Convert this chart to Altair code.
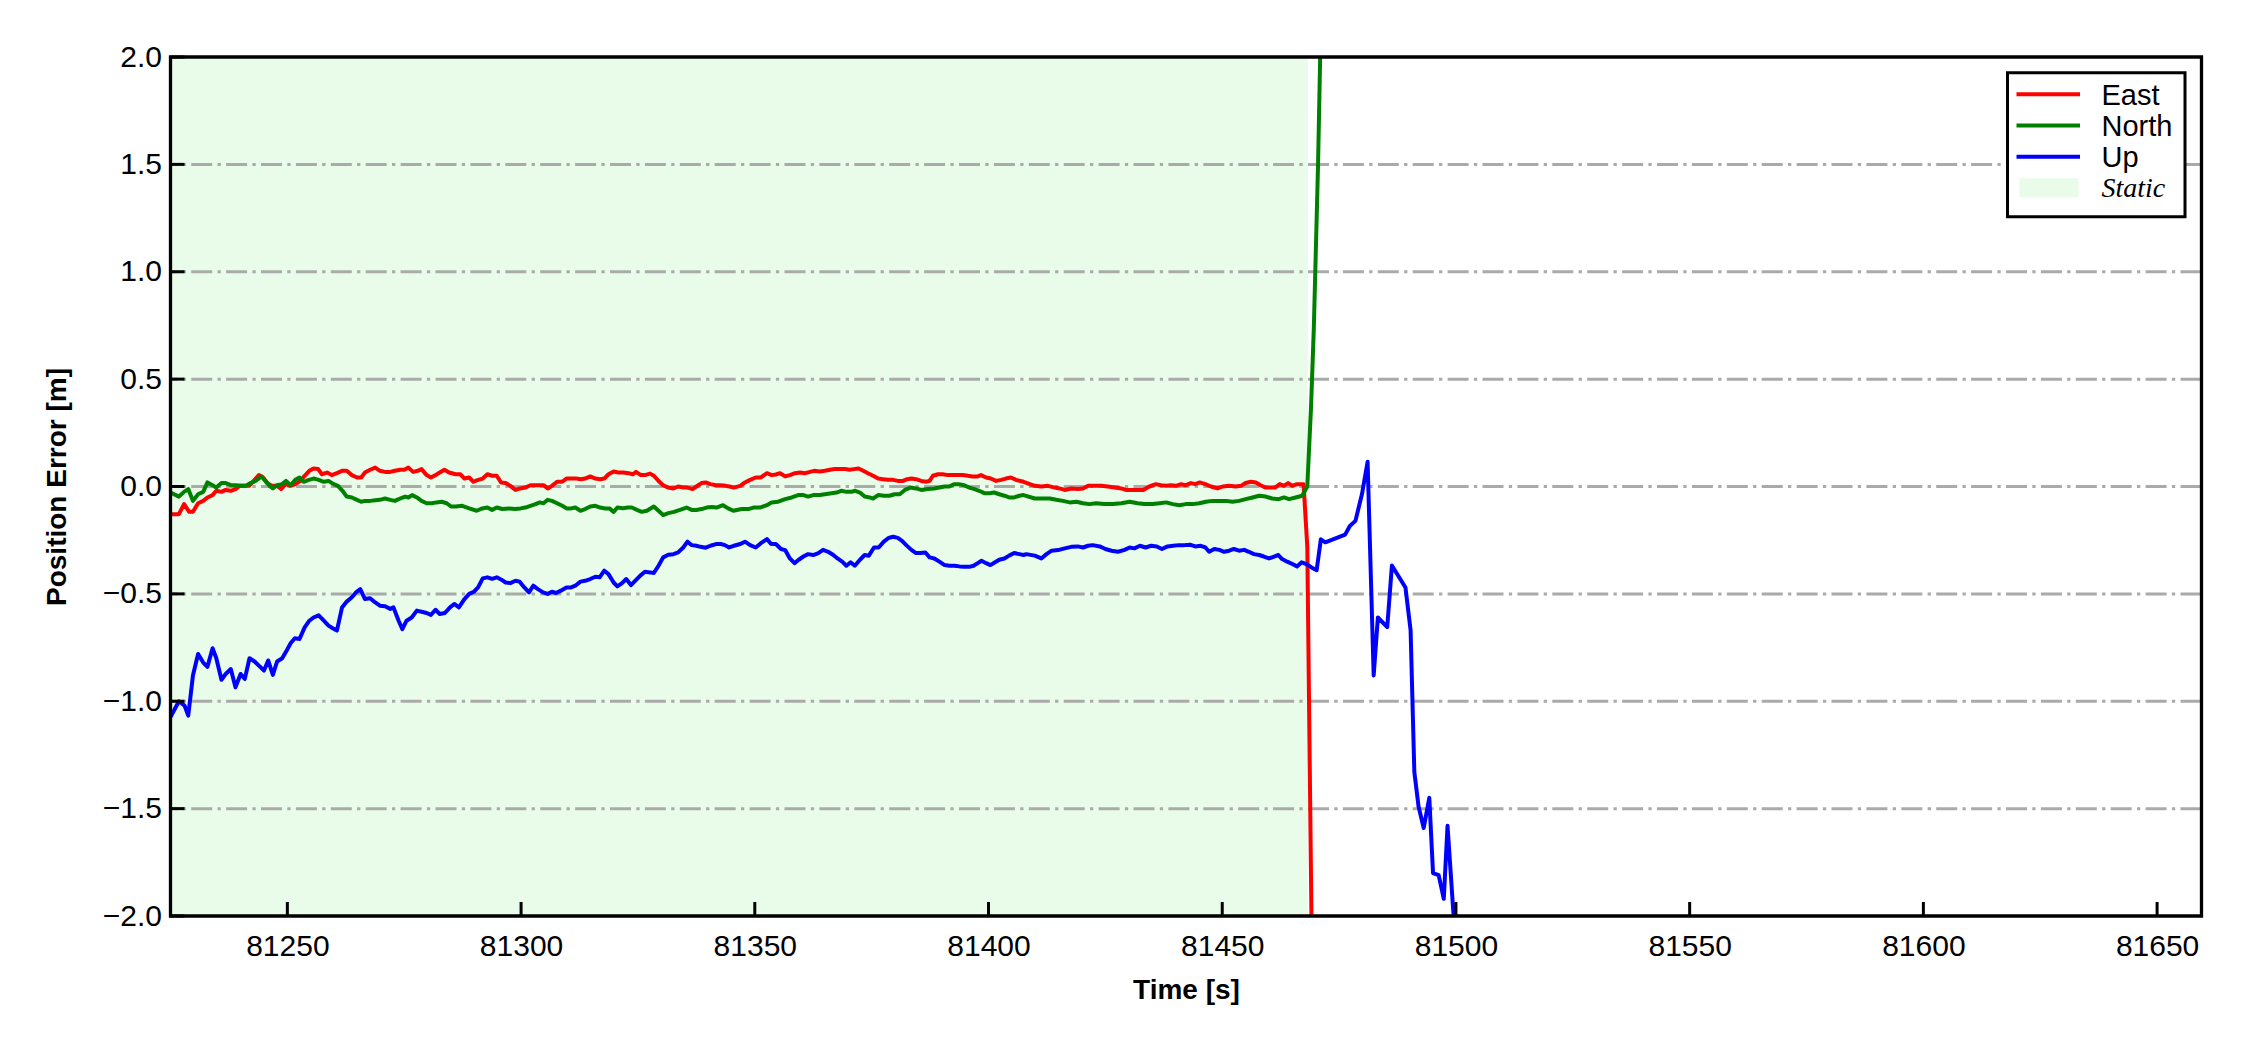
import altair as alt
import pandas as pd

alt.data_transformers.disable_max_rows()

# ---------------- data ----------------
EAST = [(81225.0,-0.129),(81226.8,-0.129),(81227.9,-0.082),(81229.0,-0.118),(81229.8,-0.118),(81230.9,-0.078),(81232.0,-0.067),(81232.9,-0.051),(81234.0,-0.040),(81234.8,-0.020),(81235.9,-0.025),(81236.8,-0.016),(81237.9,-0.020),(81238.9,-0.012),(81239.8,0.003),(81240.9,0.003),(81241.8,0.003),(81242.8,0.026),(81243.9,0.053),(81244.8,0.042),(81245.7,0.016),(81246.7,0.003),(81247.8,0.003),(81248.7,-0.012),(81249.6,0.011),(81250.7,0.003),(81251.7,0.011),(81252.8,0.026),(81253.7,0.050),(81254.7,0.073),(81255.6,0.084),(81256.6,0.081),(81257.4,0.057),(81258.5,0.065),(81259.5,0.053),(81260.6,0.062),(81261.7,0.073),(81262.7,0.073),(81263.8,0.053),(81264.9,0.042),(81265.8,0.042),(81266.6,0.065),(81267.7,0.078),(81268.8,0.088),(81269.8,0.073),(81270.9,0.068),(81272.0,0.068),(81273.0,0.073),(81274.1,0.078),(81275.0,0.078),(81275.9,0.088),(81276.9,0.068),(81277.9,0.073),(81278.7,0.081),(81279.8,0.053),(81280.7,0.042),(81281.7,0.053),(81282.6,0.065),(81283.6,0.078),(81284.6,0.065),(81286.0,0.057),(81287.0,0.057),(81287.9,0.037),(81288.9,0.042),(81289.8,0.022),(81290.8,0.031),(81291.8,0.037),(81292.8,0.057),(81293.8,0.050),(81294.8,0.050),(81295.7,0.019),(81296.7,0.016),(81297.7,0.003),(81298.8,-0.016),(81299.8,-0.009),(81300.9,-0.005),(81302.0,0.006),(81303.0,0.006),(81304.0,0.006),(81304.8,0.006),(81305.7,-0.009),(81306.6,0.003),(81307.7,0.022),(81308.8,0.022),(81309.7,0.037),(81310.7,0.037),(81311.8,0.037),(81312.8,0.034),(81313.7,0.037),(81314.8,0.047),(81315.9,0.037),(81316.9,0.034),(81317.8,0.037),(81318.7,0.057),(81319.8,0.070),(81320.8,0.065),(81321.9,0.065),(81323.0,0.062),(81323.9,0.057),(81324.6,0.068),(81325.6,0.053),(81326.5,0.053),(81327.6,0.060),(81328.4,0.050),(81329.4,0.026),(81330.4,0.006),(81331.5,-0.005),(81332.6,-0.009),(81333.6,0.000),(81334.7,-0.005),(81335.6,-0.005),(81336.7,-0.012),(81337.5,0.000),(81338.6,0.016),(81339.5,0.019),(81340.5,0.011),(81341.7,0.006),(81342.7,0.006),(81343.8,0.003),(81344.6,0.000),(81345.5,-0.005),(81346.9,0.003),(81347.9,0.019),(81349.0,0.031),(81350.2,0.042),(81351.3,0.042),(81352.6,0.062),(81353.6,0.053),(81354.5,0.056),(81355.4,0.062),(81356.5,0.047),(81357.5,0.053),(81358.6,0.062),(81359.7,0.065),(81360.7,0.062),(81361.8,0.068),(81362.7,0.073),(81363.9,0.070),(81365.0,0.073),(81366.1,0.078),(81367.1,0.081),(81368.2,0.081),(81369.3,0.081),(81370.3,0.078),(81371.2,0.081),(81372.2,0.084),(81373.2,0.073),(81374.2,0.062),(81375.3,0.050),(81376.4,0.037),(81377.4,0.034),(81378.5,0.031),(81379.6,0.031),(81380.6,0.026),(81381.7,0.026),(81382.6,0.034),(81383.5,0.037),(81384.5,0.034),(81385.6,0.026),(81386.7,0.022),(81387.4,0.026),(81388.1,0.050),(81389.2,0.057),(81390.2,0.057),(81391.3,0.053),(81392.4,0.053),(81393.4,0.053),(81394.5,0.054),(81395.6,0.050),(81396.6,0.047),(81397.7,0.047),(81398.4,0.053),(81399.5,0.042),(81400.5,0.037),(81401.6,0.026),(81402.7,0.031),(81403.7,0.037),(81404.8,0.042),(81405.9,0.031),(81407.5,0.022),(81409.9,0.003),(81411.3,0.000),(81412.7,0.003),(81414.2,-0.005),(81415.2,-0.009),(81416.3,-0.016),(81417.7,-0.009),(81419.1,-0.012),(81420.2,-0.009),(81421.3,0.003),(81422.7,0.003),(81424.1,0.003),(81425.5,0.000),(81427.0,-0.005),(81428.4,-0.009),(81429.4,-0.016),(81430.9,-0.016),(81431.9,-0.016),(81433.1,-0.016),(81434.4,0.000),(81435.8,0.011),(81436.9,0.006),(81438.0,0.003),(81439.0,0.006),(81440.1,0.003),(81441.2,0.011),(81442.2,0.006),(81443.3,0.016),(81444.2,0.011),(81445.2,0.019),(81446.4,0.011),(81447.6,0.000),(81449.0,-0.009),(81450.1,0.000),(81451.5,0.003),(81452.9,0.000),(81454.0,0.003),(81455.0,0.016),(81456.1,0.022),(81457.2,0.019),(81458.2,0.006),(81459.3,-0.005),(81460.4,-0.005),(81461.3,-0.005),(81462.3,0.011),(81463.2,0.003),(81464.1,0.016),(81465.0,0.003),(81466.0,0.011),(81467.4,0.011),(81468.2,-0.280),(81469.6,-3.000)]

NORTH = [(81225.0,-0.028),(81226.8,-0.047),(81227.9,-0.025),(81228.8,-0.012),(81229.8,-0.067),(81230.9,-0.036),(81232.0,-0.025),(81232.9,0.019),(81234.0,0.006),(81234.8,-0.005),(81235.9,0.016),(81236.8,0.016),(81237.9,0.006),(81238.9,0.006),(81240.0,0.003),(81241.1,0.003),(81242.1,0.016),(81243.2,0.026),(81244.5,0.047),(81245.3,0.026),(81246.2,0.003),(81246.9,-0.009),(81247.8,0.006),(81248.9,0.011),(81249.7,0.026),(81250.7,0.006),(81251.7,0.031),(81252.6,0.042),(81253.5,0.022),(81254.6,0.031),(81255.6,0.037),(81256.7,0.031),(81257.8,0.022),(81258.8,0.026),(81259.9,0.011),(81260.8,0.003),(81261.8,-0.020),(81262.7,-0.047),(81263.8,-0.051),(81264.9,-0.062),(81265.8,-0.071),(81266.6,-0.067),(81267.7,-0.067),(81268.8,-0.064),(81269.8,-0.062),(81270.9,-0.056),(81272.0,-0.062),(81273.0,-0.067),(81274.1,-0.056),(81275.2,-0.047),(81275.9,-0.051),(81276.7,-0.040),(81277.7,-0.051),(81278.7,-0.067),(81279.8,-0.078),(81280.9,-0.078),(81281.9,-0.074),(81283.0,-0.071),(81284.1,-0.078),(81285.0,-0.093),(81286.0,-0.093),(81287.4,-0.090),(81288.9,-0.102),(81290.5,-0.113),(81291.7,-0.102),(81292.8,-0.098),(81293.8,-0.109),(81294.8,-0.098),(81296.0,-0.105),(81297.4,-0.102),(81298.8,-0.105),(81299.9,-0.102),(81300.9,-0.098),(81302.0,-0.090),(81303.1,-0.082),(81304.0,-0.074),(81304.8,-0.078),(81305.7,-0.062),(81306.6,-0.067),(81307.7,-0.078),(81308.8,-0.090),(81309.8,-0.102),(81310.7,-0.102),(81311.6,-0.098),(81312.7,-0.113),(81313.7,-0.105),(81314.8,-0.093),(81315.9,-0.090),(81316.9,-0.098),(81318.0,-0.102),(81318.9,-0.102),(81319.8,-0.118),(81320.6,-0.098),(81321.8,-0.101),(81322.8,-0.098),(81323.7,-0.098),(81324.8,-0.109),(81325.8,-0.118),(81326.9,-0.113),(81328.4,-0.093),(81329.4,-0.113),(81330.4,-0.133),(81331.5,-0.124),(81332.7,-0.118),(81334.0,-0.109),(81335.4,-0.098),(81336.5,-0.109),(81337.5,-0.109),(81338.6,-0.105),(81339.7,-0.098),(81340.8,-0.095),(81341.8,-0.098),(81343.2,-0.087),(81344.3,-0.102),(81345.4,-0.113),(81347.2,-0.105),(81348.6,-0.105),(81349.7,-0.098),(81351.1,-0.098),(81352.6,-0.087),(81353.6,-0.074),(81355.0,-0.071),(81356.5,-0.059),(81357.9,-0.051),(81359.3,-0.040),(81360.4,-0.040),(81361.4,-0.047),(81362.5,-0.040),(81363.9,-0.040),(81365.0,-0.036),(81366.4,-0.031),(81367.5,-0.028),(81368.5,-0.020),(81369.6,-0.025),(81370.7,-0.025),(81371.5,-0.020),(81372.5,-0.028),(81373.5,-0.047),(81374.6,-0.051),(81375.3,-0.056),(81376.4,-0.040),(81377.6,-0.043),(81378.8,-0.043),(81379.9,-0.036),(81381.0,-0.036),(81382.1,-0.016),(81383.3,-0.005),(81384.5,-0.009),(81385.6,-0.016),(81387.0,-0.012),(81388.4,-0.009),(81389.5,-0.005),(81390.6,0.000),(81391.6,0.000),(81392.7,0.011),(81393.6,0.011),(81394.8,0.006),(81395.9,-0.005),(81397.0,-0.012),(81398.0,-0.020),(81399.1,-0.031),(81400.2,-0.031),(81401.2,-0.028),(81402.3,-0.036),(81403.4,-0.043),(81404.4,-0.051),(81405.5,-0.051),(81406.6,-0.043),(81407.5,-0.040),(81409.9,-0.056),(81411.7,-0.056),(81413.1,-0.056),(81414.5,-0.062),(81415.9,-0.067),(81417.4,-0.074),(81418.8,-0.071),(81420.2,-0.078),(81421.6,-0.082),(81423.0,-0.078),(81424.8,-0.082),(81426.6,-0.082),(81428.4,-0.078),(81430.2,-0.071),(81431.9,-0.078),(81433.4,-0.082),(81435.1,-0.082),(81436.6,-0.078),(81438.0,-0.074),(81439.4,-0.082),(81440.8,-0.087),(81442.2,-0.082),(81443.7,-0.082),(81445.1,-0.078),(81446.5,-0.071),(81447.9,-0.067),(81449.3,-0.067),(81450.8,-0.067),(81452.2,-0.071),(81453.6,-0.067),(81455.0,-0.059),(81456.5,-0.051),(81457.9,-0.043),(81459.3,-0.047),(81460.7,-0.056),(81462.1,-0.059),(81463.2,-0.051),(81464.3,-0.059),(81465.7,-0.051),(81467.1,-0.043),(81468.2,0.000),(81469.0,0.370),(81469.6,0.740),(81470.5,1.500),(81471.0,2.050),(81471.4,2.700)]

UP = [(81225.0,-1.074),(81226.8,-1.000),(81228.0,-1.020),(81228.8,-1.067),(81229.8,-0.880),(81230.9,-0.780),(81232.0,-0.820),(81232.9,-0.840),(81234.0,-0.753),(81234.8,-0.800),(81235.9,-0.900),(81236.8,-0.873),(81237.9,-0.850),(81238.9,-0.935),(81240.0,-0.873),(81240.9,-0.896),(81241.9,-0.800),(81243.0,-0.815),(81243.9,-0.834),(81245.0,-0.857),(81245.9,-0.810),(81246.9,-0.877),(81247.8,-0.815),(81248.9,-0.800),(81249.7,-0.770),(81250.7,-0.730),(81251.6,-0.707),(81252.6,-0.710),(81253.7,-0.656),(81254.7,-0.625),(81255.6,-0.610),(81256.7,-0.600),(81257.8,-0.625),(81258.8,-0.648),(81259.7,-0.660),(81260.6,-0.671),(81261.7,-0.563),(81262.7,-0.536),(81263.8,-0.516),(81264.7,-0.493),(81265.6,-0.478),(81266.6,-0.524),(81267.7,-0.520),(81268.8,-0.540),(81269.8,-0.555),(81270.9,-0.558),(81272.0,-0.570),(81272.7,-0.563),(81273.8,-0.625),(81274.6,-0.664),(81275.5,-0.625),(81276.6,-0.610),(81277.7,-0.578),(81278.7,-0.583),(81279.8,-0.589),(81280.7,-0.598),(81281.7,-0.574),(81282.6,-0.594),(81283.7,-0.589),(81284.8,-0.563),(81285.7,-0.547),(81286.7,-0.563),(81287.8,-0.527),(81288.9,-0.500),(81289.9,-0.490),(81290.8,-0.470),(81291.8,-0.428),(81292.8,-0.423),(81293.8,-0.430),(81294.8,-0.423),(81295.8,-0.434),(81296.7,-0.447),(81297.7,-0.450),(81298.8,-0.439),(81299.7,-0.443),(81300.7,-0.470),(81301.7,-0.493),(81302.6,-0.462),(81303.6,-0.478),(81304.7,-0.493),(81305.7,-0.500),(81306.6,-0.490),(81307.5,-0.496),(81308.5,-0.485),(81309.7,-0.470),(81310.7,-0.470),(81311.6,-0.462),(81312.7,-0.443),(81313.7,-0.439),(81314.8,-0.431),(81315.9,-0.420),(81316.8,-0.423),(81317.8,-0.392),(81318.7,-0.408),(81319.8,-0.447),(81320.6,-0.465),(81321.6,-0.450),(81322.5,-0.431),(81323.5,-0.459),(81324.4,-0.439),(81325.5,-0.415),(81326.5,-0.397),(81327.6,-0.400),(81328.4,-0.403),(81329.4,-0.369),(81330.4,-0.330),(81331.5,-0.318),(81332.6,-0.315),(81333.6,-0.307),(81334.7,-0.284),(81335.6,-0.257),(81336.5,-0.273),(81337.5,-0.276),(81338.4,-0.281),(81339.5,-0.285),(81340.5,-0.276),(81341.7,-0.268),(81342.7,-0.268),(81343.6,-0.273),(81344.5,-0.284),(81345.5,-0.276),(81346.9,-0.268),(81347.9,-0.257),(81349.0,-0.273),(81350.2,-0.284),(81351.3,-0.264),(81352.6,-0.245),(81353.5,-0.268),(81354.5,-0.268),(81355.6,-0.291),(81356.5,-0.296),(81357.5,-0.335),(81358.5,-0.357),(81359.4,-0.341),(81360.4,-0.326),(81361.4,-0.315),(81362.5,-0.319),(81363.6,-0.310),(81364.6,-0.295),(81365.7,-0.304),(81366.8,-0.319),(81367.7,-0.335),(81368.7,-0.350),(81369.6,-0.369),(81370.5,-0.353),(81371.4,-0.369),(81372.5,-0.341),(81373.5,-0.319),(81374.4,-0.322),(81375.5,-0.284),(81376.5,-0.284),(81377.6,-0.257),(81378.6,-0.240),(81379.6,-0.234),(81380.6,-0.239),(81381.5,-0.253),(81382.4,-0.273),(81383.5,-0.295),(81384.5,-0.310),(81385.5,-0.310),(81386.5,-0.307),(81387.4,-0.330),(81388.4,-0.335),(81389.5,-0.350),(81390.6,-0.366),(81391.6,-0.369),(81392.7,-0.369),(81393.8,-0.372),(81394.8,-0.374),(81395.9,-0.374),(81396.8,-0.369),(81397.7,-0.357),(81398.5,-0.346),(81399.5,-0.357),(81400.4,-0.366),(81401.4,-0.353),(81402.3,-0.341),(81403.4,-0.335),(81404.4,-0.322),(81405.5,-0.310),(81406.6,-0.315),(81407.5,-0.319),(81408.1,-0.315),(81409.9,-0.322),(81411.3,-0.335),(81412.4,-0.315),(81413.5,-0.299),(81414.9,-0.296),(81416.3,-0.288),(81417.7,-0.281),(81419.1,-0.279),(81420.2,-0.284),(81421.3,-0.276),(81422.3,-0.273),(81423.8,-0.279),(81425.0,-0.291),(81426.3,-0.299),(81427.7,-0.304),(81429.1,-0.295),(81430.2,-0.284),(81431.2,-0.288),(81432.4,-0.276),(81433.6,-0.284),(81434.8,-0.276),(81436.0,-0.279),(81437.1,-0.291),(81438.3,-0.279),(81439.5,-0.276),(81440.7,-0.273),(81441.9,-0.273),(81443.1,-0.271),(81444.2,-0.279),(81445.4,-0.276),(81446.4,-0.284),(81447.2,-0.304),(81448.3,-0.291),(81449.4,-0.295),(81450.4,-0.304),(81451.5,-0.299),(81452.5,-0.291),(81453.6,-0.299),(81454.7,-0.295),(81455.7,-0.304),(81456.8,-0.315),(81457.9,-0.319),(81458.9,-0.326),(81460.0,-0.335),(81461.1,-0.326),(81462.0,-0.319),(81462.8,-0.338),(81463.9,-0.350),(81465.0,-0.361),(81466.0,-0.372),(81467.0,-0.353),(81468.0,-0.361),(81469.1,-0.377),(81470.2,-0.390),(81471.1,-0.246),(81472.05,-0.260),(81476.3,-0.224),(81477.3,-0.184),(81478.5,-0.160),(81479.9,-0.035),(81481.1,0.115),(81482.4,-0.880),(81483.3,-0.610),(81485.3,-0.655),(81486.3,-0.368),(81489.2,-0.470),(81490.3,-0.670),(81491.1,-1.330),(81492.0,-1.490),(81493.1,-1.590),(81494.3,-1.450),(81495.1,-1.800),(81496.3,-1.810),(81497.4,-1.920),(81498.2,-1.580),(81499.5,-2.000),(81500.0,-2.300)]

SERIES_NAMES = ["East", "North", "Up"]
SERIES_COLORS = ["#ff0000", "#008000", "#0000ff"]
STATIC_SPAN = [81225.0, 81468.3]
STATIC_LABEL = "Static"
STATIC_COLOR = "#e9fce9"
X_DOMAIN = [81225.0, 81659.5]
Y_DOMAIN = [-2.0, 2.0]
X_TICKS = [81250, 81300, 81350, 81400, 81450, 81500, 81550, 81600, 81650]
Y_TICKS = [-2.0, -1.5, -1.0, -0.5, 0.0, 0.5, 1.0, 1.5, 2.0]
X_TITLE = "Time [s]"
Y_TITLE = "Position Error [m]"

# ---------------- layout ----------------
W, H = 2031, 859
FONT = "Liberation Sans"

xscale = alt.Scale(domain=X_DOMAIN, nice=False, zero=False)
yscale = alt.Scale(domain=Y_DOMAIN, nice=False, zero=False)

x_axis = alt.Axis(values=X_TICKS, format="d", title=X_TITLE, labelPadding=15,
                  titleX=W / 2, titleY=74, titleAlign="center", titleBaseline="middle", titleAngle=0)
y_axis = alt.Axis(values=Y_TICKS, format=".1f", title=Y_TITLE, labelPadding=9,
                  titleX=-113.5, titleY=H / 2, titleAngle=270, titleAlign="center", titleBaseline="middle")


def X(field):
    return alt.X(field, type="quantitative", scale=xscale, axis=x_axis)


def Y(field):
    return alt.Y(field, type="quantitative", scale=yscale, axis=y_axis)


one = pd.DataFrame({"a": [0]})

shade = alt.Chart(pd.DataFrame({"start": [STATIC_SPAN[0]], "end": [STATIC_SPAN[1]]})).mark_rect(
    color=STATIC_COLOR, clip=True
).encode(x=X("start"), x2="end", y=alt.value(0), y2=alt.value(H))

grid = alt.Chart(pd.DataFrame({"v": [v for v in Y_TICKS if -2 < v < 2]})).mark_rule(
    color="#aaaaaa", strokeWidth=3, strokeDash=[21, 5.3, 3.3, 5.3]
).encode(y=Y("v"))

lines = []
for name, color, pts in zip(SERIES_NAMES, SERIES_COLORS, [EAST, NORTH, UP]):
    df = pd.DataFrame(pts, columns=["t", "v"])
    lines.append(
        alt.Chart(df).mark_line(color=color, strokeWidth=4, clip=True, strokeJoin="round")
        .encode(x=X("t"), y=Y("v"))
    )

xticks = alt.Chart(pd.DataFrame({"t": X_TICKS})).mark_rule(color="black", strokeWidth=3).encode(
    x=X("t"), y=alt.value(H), y2=alt.value(H - 14)
)
yticks = alt.Chart(pd.DataFrame({"v": Y_TICKS})).mark_rule(color="black", strokeWidth=3).encode(
    y=Y("v"), x=alt.value(0), x2=alt.value(14)
)

frame = alt.Chart(one).mark_rect(fillOpacity=0, stroke="black", strokeWidth=3.3).encode(
    x=alt.value(0), x2=alt.value(W), y=alt.value(0), y2=alt.value(H)
)

# ---------------- legend (upper right) ----------------
legend = [
    alt.Chart(one).mark_rect(fill="white", stroke="black", strokeWidth=3).encode(
        x=alt.value(1837), x2=alt.value(2014.5), y=alt.value(15.7), y2=alt.value(159.7)
    )
]
row_y = [37.3, 68.5, 99.7]
for i, (name, color) in enumerate(zip(SERIES_NAMES, SERIES_COLORS)):
    legend.append(
        alt.Chart(one).mark_rule(color=color, strokeWidth=4).encode(
            x=alt.value(1846), x2=alt.value(1909.5), y=alt.value(row_y[i])
        )
    )
    legend.append(
        alt.Chart(one).mark_text(text=name, align="left", baseline="alphabetic", font=FONT,
                                 fontSize=29, color="black").encode(
            x=alt.value(1931), y=alt.value(row_y[i] + 10.5)
        )
    )
legend.append(
    alt.Chart(one).mark_rect(color=STATIC_COLOR).encode(
        x=alt.value(1849), x2=alt.value(1908), y=alt.value(121.3), y2=alt.value(140.3)
    )
)
legend.append(
    alt.Chart(one).mark_text(text=STATIC_LABEL, align="left", baseline="alphabetic",
                             font="Liberation Serif", fontStyle="italic", fontSize=28,
                             color="black").encode(x=alt.value(1931), y=alt.value(140.3))
)

chart = (
    alt.layer(shade, grid, *lines, xticks, yticks, frame, *legend)
    .properties(
        width=W, height=H,
        autosize=alt.AutoSizeParams(type="none"),
        padding={"left": 162.5, "top": 49, "right": 30, "bottom": 120},
        background="white",
    )
    .configure_view(stroke=None)
    .configure_axis(
        domain=False, ticks=False, tickSize=0, grid=False,
        labelFont=FONT, labelFontSize=30, labelColor="black",
        titleFont=FONT, titleFontSize=28, titleFontWeight="bold", titleColor="black",
        labelFlush=False, labelOverlap=False,
    )
)

chart.save("out.html", embed_options={"renderer": "svg", "actions": False})
